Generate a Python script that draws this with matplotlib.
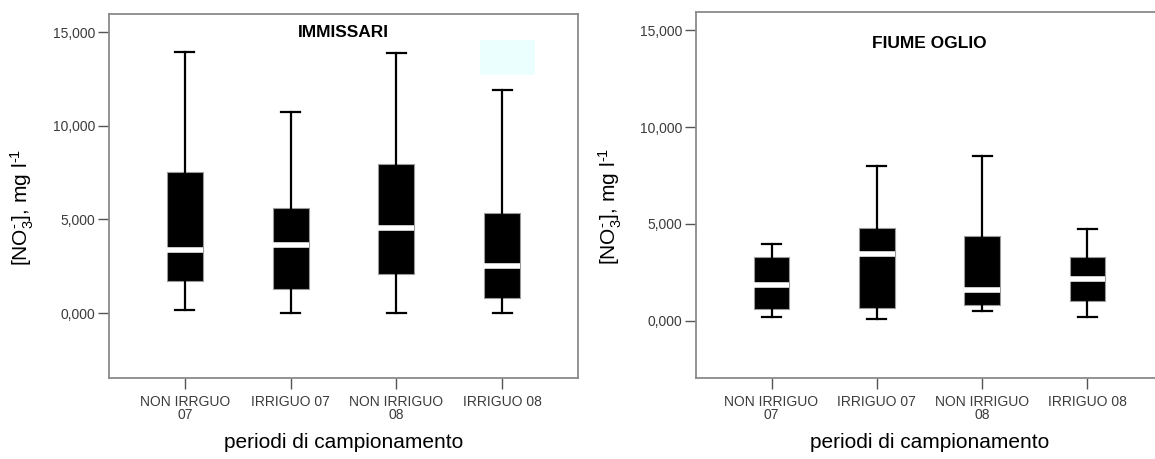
import matplotlib
matplotlib.use("Agg")
import matplotlib.pyplot as plt
from matplotlib.patches import Rectangle

plt.rcParams["font.family"] = ["Liberation Sans", "DejaVu Sans"]
plt.rcParams["mathtext.fontset"] = "custom"
plt.rcParams["mathtext.rm"] = "Liberation Sans"
plt.rcParams["mathtext.it"] = "Liberation Sans"
plt.rcParams["mathtext.default"] = "regular"

# Nitrate concentrations per sampling period (mg/l)
labels_imm = ["NON IRRGUO\n07", "IRRIGUO 07", "NON IRRIGUO\n08", "IRRIGUO 08"]
labels_oglio = ["NON IRRIGUO\n07", "IRRIGUO 07", "NON IRRIGUO\n08", "IRRIGUO 08"]

imm_whislo = [180, 0, 0, 0]
imm_q1 = [1690, 1280, 2100, 800]
imm_med = [3360, 3660, 4570, 2540]
imm_q3 = [7530, 5590, 7990, 5340]
imm_whishi = [13970, 10750, 13900, 11900]

oglio_whislo = [170, 100, 510, 190]
oglio_q1 = [620, 670, 820, 1030]
oglio_med = [1820, 3420, 1610, 2150]
oglio_q3 = [3280, 4790, 4390, 3310]
oglio_whishi = [3970, 8000, 8530, 4720]

yticks = [0, 5000, 10000, 15000]
yticklabels = ["0,000", "5,000", "10,000", "15,000"]

SPINE = "#8a8a8a"
TXT = "#3c3c3c"


def stats(lo, q1, med, q3, hi):
    return [dict(whislo=a, q1=b, med=c, q3=d, whishi=e, fliers=[])
            for a, b, c, d, e in zip(lo, q1, med, q3, hi)]


def draw(ax, st, labels, title, title_y, ylim):
    ax.bxp(st, positions=[1, 2, 3, 4], widths=0.34, patch_artist=True,
           showfliers=False,
           boxprops=dict(facecolor="black", edgecolor="#9a9a9a", linewidth=0.8),
           medianprops=dict(color="white", linewidth=4, solid_capstyle="butt"),
           whiskerprops=dict(color="black", linewidth=1.6),
           capprops=dict(color="black", linewidth=1.6),
           capwidths=0.18)
    ax.set_xlim(0.283, 4.717)
    ax.set_ylim(*ylim)
    ax.set_yticks(yticks)
    ax.set_yticklabels(yticklabels)
    ax.set_xticks([1, 2, 3, 4])
    ax.set_xticklabels(labels, linespacing=0.95)
    for s in ax.spines.values():
        s.set_color(SPINE)
        s.set_linewidth(1.3)
    ax.tick_params(axis="both", direction="out", length=8, width=1,
                   color="#555555", labelcolor=TXT, labelsize=10, pad=2)
    ax.tick_params(axis="x", length=8, pad=4)
    ax.set_ylabel(r"[NO$_3^{\text{-}}$], mg l$^{\text{-1}}$", fontsize=15,
                  color="black")
    ax.yaxis.set_label_coords(-0.155, 0.47)
    ax.set_xlabel("periodi di campionamento", fontsize=15, color="black",
                  labelpad=8)
    ax.text(0.5, title_y, title, transform=ax.transAxes, ha="center",
            va="center", fontsize=12.5, fontweight="bold")


fig = plt.figure(figsize=(11.55, 4.59), dpi=100)
ax1 = fig.add_axes([0.0944, 0.1765, 0.406, 0.793])
ax2 = fig.add_axes([0.6026, 0.1765, 0.4043, 0.797])

draw(ax1, stats(imm_whislo, imm_q1, imm_med, imm_q3, imm_whishi),
     labels_imm, "IMMISSARI", 0.95, (-3470, 15980))
ax1.add_patch(Rectangle((3.79, 12720), 0.52, 1870, facecolor="#ecffff",
                        edgecolor="none", zorder=0))

draw(ax2, stats(oglio_whislo, oglio_q1, oglio_med, oglio_q3, oglio_whishi),
     labels_oglio, "FIUME OGLIO", 0.915, (-2955, 15930))

fig.savefig("out.png", dpi=100, facecolor="white")
